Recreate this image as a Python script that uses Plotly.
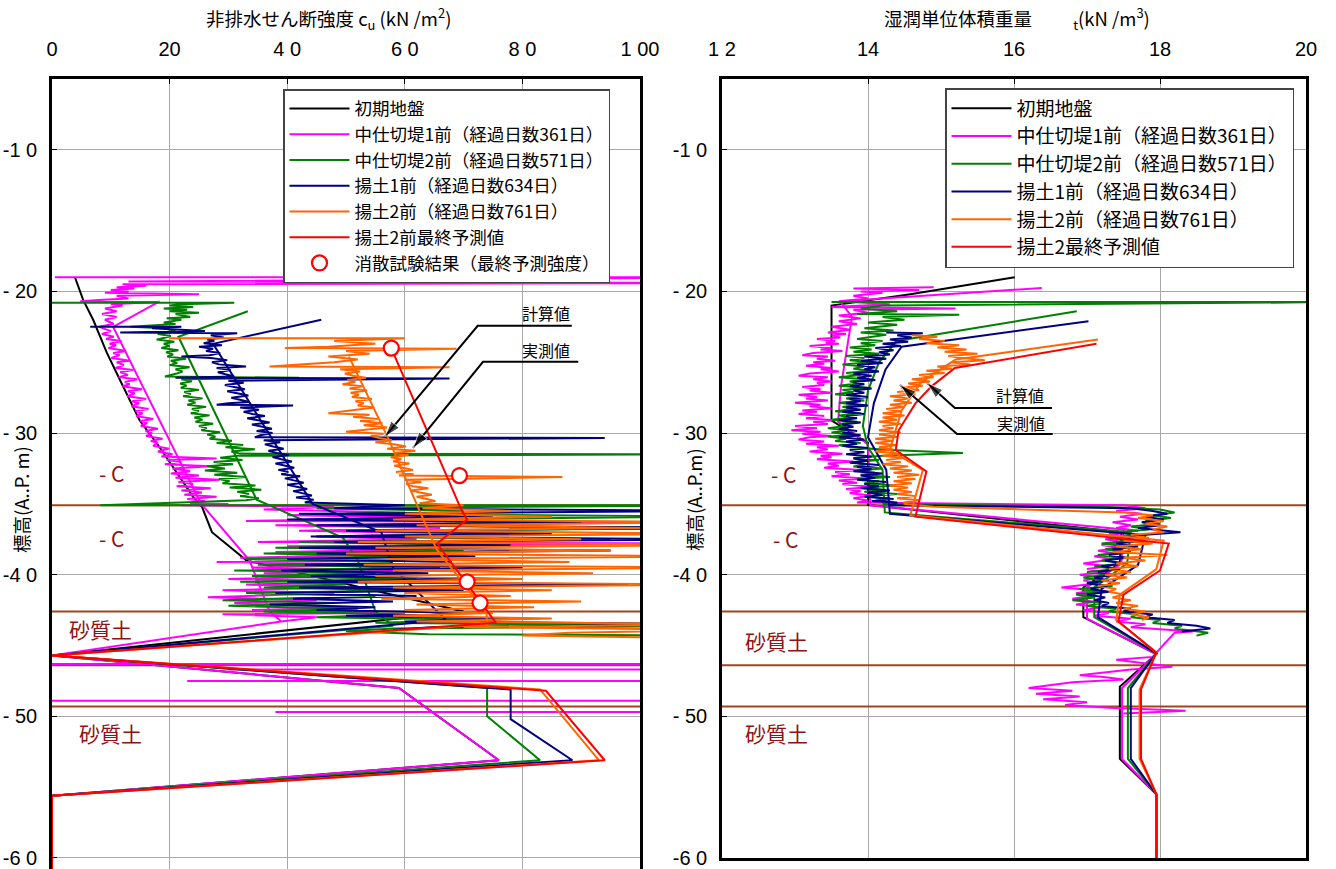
import plotly.graph_objects as go

# ------------------------------------------------------------------
# 非排水せん断強度 cu  —  (標高 A.P. m, cu kN/m2)
# ------------------------------------------------------------------
cu_initial = [(-19.0, 3.9), (-20.6, 5.3), (-22.0, 7.0), (-24.3, 9.3), (-26.2, 11.5),
              (-29.1, 14.9), (-31.0, 18.3), (-32.8, 21.2), (-34.5, 24.0), (-35.2, 25.5),
              (-37.0, 27.2), (-39.0, 33.1), (-42.0, 64.0), (-42.6, 70.0), (-45.7, 0.0),
              (-48.0, 59.0), (-53.1, 76.0), (-55.6, 0.0), (-60.8, 0.0)]

cu_pink_cpt = [(-19.0, 0.5), (-19.0, 115), (-19.3, 13), (-19.4, 115), (-19.5, 12), (-19.6, 16),
               (-19.7, 11), (-19.8, 14), (-19.9, 10), (-20.0, 13), (-20.1, 9), (-20.2, 25),
               (-20.3, 11), (-20.5, 13), (-20.6, 8), (-20.7, 4.8), (-20.75, 18), (-20.9, 10),
               (-21.0, 12), (-21.2, 9), (-21.4, 11), (-21.6, 8.5), (-21.8, 11), (-22.0, 9),
               (-22.3, 10.5), (-22.5, 8), (-22.8, 10), (-23.0, 8.5), (-23.2, 10.5), (-23.35, 9.2),
               (-23.5, 11.8), (-23.7, 9.8), (-23.8, 10.9), (-24.0, 9.6), (-24.2, 12.6),
               (-24.35, 10.4), (-24.5, 11.5), (-24.7, 10.1), (-24.9, 13.2), (-25.0, 11.0),
               (-25.2, 12.2), (-25.4, 10.8), (-25.55, 13.8), (-25.7, 11.6), (-25.9, 12.9),
               (-26.05, 11.3), (-26.2, 14.5), (-26.4, 12.4), (-26.55, 13.2), (-26.7, 12.0),
               (-26.9, 15.3), (-27.05, 12.9), (-27.2, 14.1), (-27.4, 12.8), (-27.6, 16.0),
               (-27.75, 13.6), (-27.9, 14.8), (-28.1, 13.5), (-28.3, 16.4), (-28.45, 14.2),
               (-28.6, 15.4), (-28.8, 14.3), (-29.0, 17.2), (-29.15, 15.0), (-29.3, 16.2),
               (-29.5, 15.1), (-29.7, 18.0), (-29.85, 15.9), (-30.0, 17.0), (-30.2, 16.0),
               (-30.4, 18.8), (-30.55, 16.8), (-30.7, 18.0), (-30.9, 17.2), (-31.1, 19.9),
               (-31.3, 18.0), (-31.5, 20.5), (-31.65, 18.6), (-31.8, 28.0), (-31.9, 19.5),
               (-32.05, 22.0), (-32.2, 19.2), (-32.35, 27.0), (-32.5, 20.5), (-32.7, 23.5),
               (-32.85, 20.2), (-33.0, 25.0), (-33.15, 21.0), (-33.3, 28.5), (-33.45, 21.5),
               (-33.6, 24.0), (-33.75, 21.2), (-33.9, 27.0), (-34.05, 22.0), (-34.2, 25.5),
               (-34.35, 22.5), (-34.5, 28.0), (-34.65, 23.0), (-34.8, 26.0), (-34.95, 23.5),
               (-35.0, 30), (-35.1, 22), (-35.2, 48), (-35.4, 36), (-35.6, 60),
               (-35.8, 40), (-36.0, 70), (-36.2, 33), (-36.3, 115), (-36.5, 38), (-36.7, 66),
               (-36.9, 42), (-37.1, 72), (-37.3, 45), (-37.5, 62), (-37.7, 35), (-37.8, 115),
               (-38.0, 40), (-38.2, 68), (-38.4, 38), (-38.6, 55), (-38.8, 32), (-39.0, 60),
               (-39.1, 28), (-39.3, 58), (-39.5, 34), (-39.7, 63), (-39.9, 36), (-40.1, 52),
               (-40.3, 30), (-40.5, 57), (-40.7, 33), (-40.9, 50), (-41.1, 29), (-41.3, 48),
               (-41.6, 26.5), (-41.8, 45), (-42.0, 31), (-42.3, 52), (-42.5, 34), (-42.7, 55),
               (-42.8, 29), (-43.0, 45), (-43.3, 39)]
# isolated spikes inside the sand layers: (depth, from, to)
cu_pink_sand = [(-46.3, 0, 115), (-46.7, 30, 115), (-47.5, 23, 115), (-48.9, 0, 115), (-49.7, 38, 115)]
cu_pink_calc = [(-20.7, 18.3), (-22.5, 10.4), (-34.7, 25.0), (-35.3, 26.0), (-39.0, 33.6),
                (-42.6, 37.0), (-43.3, 39.0), (-45.7, 0.0), (-48.0, 59.0), (-53.1, 76.0),
                (-55.6, 0.0), (-60.8, 0.0)]

cu_green_cpt = [(-20.8, 0), (-20.8, 31), (-20.9, 22), (-21.0, 20), (-21.1, 24), (-21.2, 19),
                (-21.3, 23), (-21.4, 20), (-21.5, 25), (-21.6, 21), (-21.8, 23.5), (-21.9, 19.5),
                (-22.0, 22), (-22.2, 19), (-22.3, 21), (-22.5, 13.3), (-22.6, 19), (-22.8, 21),
                (-23.0, 18), (-23.15, 20.2), (-23.3, 18.8), (-23.4, 17.8), (-23.55, 20.8),
                (-23.7, 19.0), (-23.85, 20.0), (-24.0, 18.6), (-24.15, 21.5), (-24.3, 19.4),
                (-24.45, 20.6), (-24.6, 19.6), (-24.75, 22.8), (-24.9, 20.2), (-25.05, 21.3),
                (-25.2, 20.0), (-25.35, 23.4), (-25.5, 21.0), (-25.65, 22.2), (-25.8, 21.2),
                (-26.0, 19.2), (-26.1, 42), (-26.2, 22), (-26.35, 23.8), (-26.5, 21.8),
                (-26.65, 22.9), (-26.8, 21.9), (-26.95, 25.0), (-27.1, 22.5), (-27.25, 23.6),
                (-27.4, 22.3), (-27.55, 25.6), (-27.7, 23.2), (-27.85, 24.4), (-28.0, 23.0),
                (-28.15, 26.2), (-28.3, 23.8), (-28.45, 25.0), (-28.6, 23.6), (-28.75, 26.8),
                (-28.9, 24.2), (-29.05, 25.6), (-29.2, 24.4), (-29.35, 27.4), (-29.5, 25.0),
                (-29.65, 26.3), (-29.8, 25.4), (-29.95, 28.6), (-30.1, 26.4), (-30.25, 27.8),
                (-30.4, 26.8), (-30.55, 30.6), (-30.7, 28.0), (-30.85, 32.5), (-31.0, 29.5),
                (-31.15, 34.5), (-31.3, 30.5), (-31.45, 32.0), (-31.5, 115), (-31.6, 31.5),
                (-31.75, 28.6), (-31.9, 32.4), (-32.05, 27.5), (-32.2, 30.8), (-32.35, 26.4),
                (-32.5, 29.4), (-32.65, 26.0), (-32.8, 31.5), (-32.95, 27.6), (-33.1, 33.0),
                (-33.25, 28.4), (-33.4, 30.2), (-33.55, 29.0), (-33.7, 34.6), (-33.85, 30.2),
                (-34.0, 35.6), (-34.15, 31.5), (-34.3, 33.5), (-34.45, 32.0), (-34.6, 35.2),
                (-34.75, 33.0), (-35.1, 8.2), (-35.1, 115), (-35.3, 45), (-35.5, 70), (-35.7, 50),
                (-35.9, 115), (-36.1, 55), (-36.3, 85), (-36.5, 48), (-36.7, 115), (-36.9, 52),
                (-37.1, 80), (-37.3, 45), (-37.5, 95), (-37.7, 42), (-37.9, 75), (-38.1, 38),
                (-38.3, 70), (-38.5, 36), (-38.7, 62), (-38.9, 33), (-39.1, 58), (-39.3, 35),
                (-39.5, 66), (-39.7, 31), (-39.9, 55), (-40.1, 34), (-40.3, 62), (-40.5, 32),
                (-40.7, 50), (-40.9, 36), (-41.1, 60), (-41.3, 33), (-41.5, 55), (-41.8, 29),
                (-42.0, 48), (-42.2, 30), (-42.4, 52), (-42.6, 36), (-42.8, 60), (-43.0, 45),
                (-43.2, 75), (-43.4, 55), (-43.6, 115), (-43.8, 58), (-44.0, 50), (-44.2, 64),
                (-44.3, 115)]
cu_green_calc = [(-21.4, 33.3), (-23.2, 21.5), (-34.7, 34.8), (-37.4, 49.5), (-39.0, 52.0),
                 (-42.6, 55.0), (-43.6, 58.0), (-45.7, 0.0), (-48.0, 74.0), (-50.0, 74.0),
                 (-53.1, 83.0), (-55.6, 0.0), (-60.8, 0.0)]

cu_navy_cpt = [(-22.5, 6.5), (-22.5, 22), (-22.6, 17), (-22.8, 26), (-22.9, 11.6), (-22.95, 31.5),
               (-23.1, 27), (-23.25, 29.2), (-23.4, 26.4), (-23.5, 27.6), (-23.65, 25.8),
               (-23.8, 28.9), (-23.9, 25), (-24.05, 27.4), (-24.2, 26.2), (-24.35, 28.6),
               (-24.5, 26.8), (-24.6, 22), (-24.7, 27), (-24.85, 29.8), (-25.0, 27.2),
               (-25.15, 28.4), (-25.3, 33), (-25.4, 28), (-25.55, 30.4), (-25.7, 28.2),
               (-25.85, 29.5), (-26.0, 31), (-26.1, 21), (-26.15, 67.6), (-26.3, 30),
               (-26.45, 32.6), (-26.6, 29.4), (-26.75, 31.2), (-26.9, 32.8), (-27.05, 29.8),
               (-27.2, 31.5), (-27.35, 33.4), (-27.5, 30.5), (-27.65, 32.2), (-27.8, 33.6),
               (-27.9, 30), (-28.0, 28), (-28.05, 41), (-28.2, 32), (-28.35, 35.2), (-28.5, 32.6),
               (-28.65, 34.1), (-28.8, 36.2), (-28.95, 33.2), (-29.1, 35.0), (-29.25, 37.0),
               (-29.4, 34), (-29.55, 35.6), (-29.7, 37.4), (-29.85, 34.8), (-30.0, 37.5),
               (-30.15, 35.4), (-30.3, 34.5), (-30.35, 94), (-30.5, 36), (-30.65, 38.8),
               (-30.8, 36.2), (-30.95, 37.6), (-31.1, 39.4), (-31.25, 36.8), (-31.4, 38.2),
               (-31.55, 40.3), (-31.7, 37.5), (-31.85, 39.0), (-32.0, 40.8), (-32.15, 38.0),
               (-32.3, 39.4), (-32.45, 41.2), (-32.6, 38.5), (-32.75, 40.2), (-32.9, 39),
               (-33.05, 42.2), (-33.2, 39.6), (-33.35, 41.0), (-33.5, 42.8), (-33.65, 40.0),
               (-33.8, 41.6), (-33.95, 43.4), (-34.1, 41), (-34.25, 42.6), (-34.4, 44.2),
               (-34.55, 41.5), (-34.7, 44.5), (-34.9, 43),
               (-35.1, 60), (-35.3, 48), (-35.5, 115), (-35.7, 42), (-35.9, 75), (-36.1, 40),
               (-36.3, 90), (-36.5, 45), (-36.7, 115), (-36.9, 50), (-37.1, 85), (-37.3, 44),
               (-37.5, 115), (-37.7, 48), (-37.9, 78), (-38.1, 42), (-38.3, 95), (-38.5, 45),
               (-38.7, 72), (-38.9, 40), (-39.1, 68), (-39.3, 43), (-39.5, 80), (-39.7, 39),
               (-39.9, 64), (-40.1, 44), (-40.3, 75), (-40.5, 40), (-40.7, 98), (-40.9, 42),
               (-41.1, 70), (-41.3, 38), (-41.5, 62), (-41.7, 41), (-41.9, 58), (-42.1, 37),
               (-42.3, 55), (-42.5, 45), (-42.7, 72), (-42.9, 50), (-43.1, 80), (-43.3, 60),
               (-43.5, 115), (-43.7, 65), (-43.9, 58)]
cu_navy_calc = [(-22.0, 45.8), (-23.5, 29.5), (-23.7, 27.4), (-35.0, 44.3), (-37.0, 56.0),
                (-39.5, 58.0), (-42.0, 64.0), (-43.2, 67.0), (-45.7, 0.0), (-48.1, 78.0),
                (-50.2, 78.0), (-53.1, 88.5), (-55.6, 0.0), (-60.8, 0.0)]

cu_orange_cpt = [(-23.3, 20), (-23.3, 60), (-23.5, 48), (-23.7, 55), (-23.9, 47), (-24.0, 39.6),
                 (-24.05, 68.8), (-24.2, 50), (-24.4, 54), (-24.6, 47), (-24.8, 52), (-25.0, 48),
                 (-25.3, 37), (-25.35, 67.6), (-25.5, 49), (-25.65, 52.4), (-25.8, 49.8),
                 (-25.95, 51.2), (-26.1, 53.4), (-26.25, 50.2), (-26.4, 51.6), (-26.55, 49.4),
                 (-26.7, 52.8), (-26.85, 50.6), (-27.0, 53.6), (-27.15, 50.8), (-27.3, 52.2),
                 (-27.45, 51.0), (-27.6, 54.4), (-27.75, 51.6), (-27.9, 53.0), (-28.05, 52.0),
                 (-28.2, 54.8), (-28.35, 52.2), (-28.6, 47), (-28.7, 54), (-28.85, 51.2),
                 (-29.0, 55.4), (-29.15, 52.4), (-29.3, 56.2), (-29.45, 53.0), (-29.6, 57.0),
                 (-29.75, 53.4), (-29.9, 50), (-30.05, 56.4), (-30.2, 54.2), (-30.35, 55.6),
                 (-30.5, 57.8), (-30.65, 55.0), (-30.8, 58.4), (-30.95, 60.2), (-31.1, 57),
                 (-31.25, 61.8), (-31.4, 58.2), (-31.55, 60.6), (-31.7, 57.6), (-31.85, 59.4),
                 (-32.0, 58.0), (-32.15, 60.8), (-32.3, 58.2), (-32.45, 59.6), (-32.6, 61.4),
                 (-32.75, 58.5), (-32.9, 61.5), (-33.0, 59), (-33.1, 86.8), (-33.3, 60),
                 (-33.45, 62.8), (-33.6, 60.2), (-33.75, 61.4), (-33.9, 64), (-34.05, 61.0),
                 (-34.2, 62.6), (-34.35, 64.6), (-34.5, 62), (-34.65, 63.4), (-34.8, 65.2),
                 (-34.95, 62.5), (-35.1, 70), (-35.3, 63), (-35.5, 78),
                 (-35.7, 60), (-35.9, 85), (-36.1, 58), (-36.3, 115), (-36.5, 62), (-36.7, 100),
                 (-36.9, 55), (-37.1, 115), (-37.3, 60), (-37.5, 90), (-37.7, 52), (-37.9, 115),
                 (-38.1, 55), (-38.3, 95), (-38.5, 50), (-38.7, 115), (-38.9, 57), (-39.1, 88),
                 (-39.3, 53), (-39.5, 115), (-39.7, 58), (-39.9, 92), (-40.1, 55), (-40.3, 80),
                 (-40.5, 52), (-40.7, 115), (-40.9, 58), (-41.1, 85), (-41.3, 60), (-41.5, 78),
                 (-41.7, 56), (-41.9, 90), (-42.1, 62), (-42.3, 82), (-42.5, 60), (-42.7, 75),
                 (-42.9, 58), (-43.1, 85), (-43.3, 62), (-43.5, 115), (-43.7, 70), (-43.9, 115),
                 (-44.1, 88), (-44.3, 80), (-44.5, 115)]
cu_orange_calc = [(-24.6, 50.5), (-30.3, 57.1), (-35.2, 62.2), (-38.2, 65.4), (-42.7, 73.9),
                  (-43.5, 74.0), (-45.7, 0.0), (-48.1, 83.0), (-53.1, 93.0), (-55.6, 0.0),
                  (-60.8, 0.0)]

cu_red_final = [(-24.0, 57.7), (-35.4, 69.6), (-36.1, 70.6), (-37.8, 65.5), (-43.4, 75.5),
                (-45.7, 0.0), (-48.2, 84.0), (-53.1, 94.0), (-55.6, 0.0), (-60.8, 0.0)]

# 消散試験結果 (最終予測強度)
cu_dissipation = [(-24.0, 57.7), (-33.0, 69.3), (-40.5, 70.6), (-42.0, 72.8)]

# ------------------------------------------------------------------
# 湿潤単位体積重量 γt  —  (標高 A.P. m, γt kN/m3)
# ------------------------------------------------------------------
gt_initial = [(-19.0, 16.01), (-20.2, 14.58), (-21.0, 13.5), (-29.1, 13.5), (-29.5, 13.62),
              (-30.7, 14.0), (-35.07, 14.0), (-37.0, 17.47), (-39.2, 17.45), (-40.9, 16.95),
              (-43.0, 16.95), (-45.6, 17.95), (-47.9, 17.45), (-53.0, 17.45), (-55.5, 17.95),
              (-60.0, 17.95)]

gt_pink_cpt = [(-19.7, 14.9), (-19.8, 13.8), (-19.9, 14.7), (-20.0, 13.9), (-20.1, 14.2),
               (-20.3, 13.8), (-20.5, 14.0), (-20.7, 13.6), (-20.9, 14.3), (-21.1, 13.5),
               (-21.2, 15.2), (-21.3, 13.8), (-21.5, 14.0), (-21.7, 13.6), (-21.9, 13.9),
               (-22.1, 13.6), (-22.3, 13.85), (-22.5, 13.5), (-22.7, 13.75), (-22.9, 13.45),
               (-23.0, 13.7), (-23.1, 13.5), (-23.25, 13.62), (-23.35, 13.3), (-23.5, 13.55),
               (-23.6, 13.42), (-23.7, 13.6), (-23.85, 13.2), (-24.0, 13.5), (-24.1, 13.35),
               (-24.2, 13.65), (-24.35, 13.25), (-24.5, 13.1), (-24.6, 13.45), (-24.75, 13.3),
               (-24.9, 13.55), (-25.0, 13.25), (-25.1, 13.4), (-25.25, 13.15), (-25.4, 13.5),
               (-25.5, 13.35), (-25.65, 13.6), (-25.8, 13.2), (-25.95, 13.05), (-26.05, 13.45),
               (-26.2, 13.25), (-26.35, 13.5), (-26.45, 13.3), (-26.6, 13.4), (-26.75, 13.1),
               (-26.9, 13.35), (-27.0, 13.2), (-27.15, 13.5), (-27.3, 13.05), (-27.45, 13.3),
               (-27.55, 13.15), (-27.7, 13.45), (-27.85, 13.0), (-28.0, 13.35), (-28.1, 13.2),
               (-28.25, 13.5), (-28.4, 13.1), (-28.5, 13.3), (-28.65, 13.05), (-28.8, 13.4),
               (-28.95, 13.15), (-29.1, 13.55), (-29.2, 13.25), (-29.35, 13.45), (-29.5, 13.0),
               (-29.65, 13.3), (-29.8, 12.95), (-29.9, 13.35), (-30.05, 13.1), (-30.2, 13.5),
               (-30.3, 13.2), (-30.45, 13.05), (-30.6, 13.4), (-30.75, 13.15), (-30.9, 13.6),
               (-31.0, 13.3), (-31.15, 13.45), (-31.3, 13.2), (-31.45, 13.65), (-31.6, 13.35),
               (-31.7, 13.5), (-31.85, 13.3), (-32.0, 13.8), (-32.15, 13.45), (-32.3, 13.6),
               (-32.45, 13.4), (-32.6, 13.9), (-32.75, 13.55), (-32.9, 13.75), (-33.05, 13.5),
               (-33.2, 13.95), (-33.35, 13.6), (-33.5, 13.85), (-33.6, 13.65), (-33.8, 14.05),
               (-33.95, 13.7), (-34.1, 13.9), (-34.25, 13.75), (-34.4, 14.05), (-34.6, 13.8),
               (-34.75, 14.0), (-34.9, 13.85),
               (-35.1, 17.5), (-35.3, 17.8), (-35.5, 17.4), (-35.7, 17.75), (-35.9, 17.45),
               (-36.1, 17.7), (-36.3, 17.35), (-36.5, 17.6), (-36.7, 17.4), (-36.9, 17.7),
               (-37.1, 17.3), (-37.3, 17.55), (-37.5, 17.25), (-37.7, 17.5), (-37.9, 17.2),
               (-38.1, 17.45), (-38.3, 17.15), (-38.5, 17.4), (-38.7, 17.1), (-38.9, 17.35),
               (-39.2, 16.95), (-39.4, 17.3), (-39.6, 17.0), (-39.8, 17.25), (-40.0, 16.9),
               (-40.2, 17.2), (-40.4, 16.95), (-40.6, 17.15), (-40.9, 16.65), (-41.1, 17.1),
               (-41.3, 16.85), (-41.5, 17.05), (-41.7, 16.8), (-41.9, 17.1), (-42.1, 16.85),
               (-42.3, 17.2), (-42.5, 16.95), (-42.7, 17.3), (-42.9, 17.1), (-43.1, 17.6),
               (-43.3, 17.4), (-43.5, 17.8), (-43.7, 17.6), (-44.0, 18.45), (-44.1, 18.2),
               (-45.5, 17.95), (-45.8, 17.9), (-46.0, 17.4), (-46.2, 17.7), (-46.5, 18.17),
               (-46.7, 17.6), (-46.9, 17.2), (-47.1, 16.9), (-47.2, 17.2), (-47.4, 17.5),
               (-47.6, 16.8), (-47.8, 16.5), (-48.0, 16.2), (-48.2, 16.8), (-48.4, 16.3),
               (-48.6, 16.9), (-48.8, 16.4), (-49.0, 17.0), (-49.2, 16.7), (-49.4, 17.3),
               (-49.6, 18.35), (-49.8, 17.5)]
gt_pink_calc = [(-19.75, 16.38), (-20.7, 13.62), (-21.8, 13.78), (-24.4, 13.7), (-26.7, 13.63),
                (-29.2, 13.59), (-30.8, 14.0), (-35.1, 14.03), (-36.8, 17.5), (-39.2, 17.47),
                (-40.9, 17.0), (-43.1, 17.0), (-45.6, 17.95), (-48.0, 17.48), (-53.0, 17.48),
                (-55.5, 17.95), (-60.0, 17.95)]

gt_green_cpt = [(-20.75, 13.5), (-20.75, 20.5), (-21.0, 14.2), (-21.2, 13.9), (-21.4, 14.4),
                (-21.6, 13.85), (-21.65, 15.25), (-21.8, 14.2), (-22.0, 14.5), (-22.2, 14.0),
                (-22.35, 14.4), (-22.5, 14.1), (-22.6, 13.95), (-22.75, 14.35), (-22.9, 13.9),
                (-23.05, 14.25), (-23.2, 14.05), (-23.35, 13.85), (-23.5, 14.2), (-23.65, 13.9),
                (-23.8, 14.1), (-23.95, 13.75), (-24.1, 14.05), (-24.25, 13.8), (-24.4, 14.15),
                (-24.55, 13.7), (-24.7, 13.95), (-24.85, 13.75), (-25.0, 14.05), (-25.15, 13.65),
                (-25.3, 13.95), (-25.45, 13.8), (-25.6, 14.05), (-25.75, 13.7), (-25.9, 13.9),
                (-26.05, 13.6), (-26.2, 13.95), (-26.35, 13.75), (-26.5, 13.85), (-26.65, 13.6),
                (-26.8, 14.0), (-26.95, 13.65), (-27.1, 13.8), (-27.25, 13.55), (-27.4, 13.9),
                (-27.55, 13.7), (-27.7, 13.95), (-27.85, 13.6), (-28.0, 13.85), (-28.15, 13.65),
                (-28.3, 13.8), (-28.45, 13.55), (-28.6, 13.9), (-28.75, 13.6), (-28.9, 13.75),
                (-29.05, 13.5), (-29.2, 13.85), (-29.35, 13.6), (-29.5, 13.7), (-29.65, 13.45),
                (-29.8, 13.75), (-29.95, 13.5), (-30.1, 13.8), (-30.25, 13.45), (-30.4, 13.7),
                (-30.55, 13.55), (-30.7, 13.9), (-30.85, 13.6), (-31.0, 13.75), (-31.2, 14.3),
                (-31.4, 15.3), (-31.6, 14.2), (-31.75, 13.8), (-31.9, 14.15), (-32.05, 13.75),
                (-32.2, 14.0), (-32.35, 13.8), (-32.5, 14.2), (-32.65, 13.85), (-32.8, 14.1),
                (-32.95, 13.9), (-33.1, 14.3), (-33.25, 13.85), (-33.4, 14.15), (-33.55, 13.95),
                (-33.7, 14.35), (-33.85, 14.0), (-34.0, 14.2), (-34.15, 13.95), (-34.3, 14.4),
                (-34.45, 14.05), (-34.6, 14.3), (-34.75, 14.1), (-34.9, 14.35), (-35.0, 14.2),
                (-35.2, 17.2),
                (-35.4, 18.0), (-35.6, 18.2), (-35.8, 17.9), (-36.0, 18.15), (-36.2, 17.8),
                (-36.4, 18.0), (-36.6, 17.6), (-36.8, 17.85), (-37.0, 17.4), (-37.2, 17.7),
                (-37.4, 17.3), (-37.6, 17.6), (-37.8, 17.2), (-38.0, 17.55), (-38.2, 17.25),
                (-38.4, 17.5), (-38.6, 17.15), (-38.8, 17.45), (-39.0, 17.2), (-39.2, 17.55),
                (-39.4, 17.1), (-39.6, 17.4), (-39.8, 17.0), (-40.0, 17.3), (-40.2, 16.95),
                (-40.4, 17.2), (-40.6, 17.0), (-40.8, 17.35), (-41.0, 16.9), (-41.2, 17.2),
                (-41.4, 16.85), (-41.6, 17.1), (-41.8, 16.8), (-42.0, 17.2), (-42.2, 17.0),
                (-42.4, 17.4), (-42.6, 17.3), (-42.8, 17.7), (-43.0, 17.6), (-43.2, 18.0),
                (-43.4, 17.9), (-43.6, 18.3), (-43.8, 18.2), (-44.1, 18.66), (-44.3, 18.5)]
gt_green_calc = [(-21.4, 16.86), (-23.5, 14.39), (-25.0, 14.15), (-27.0, 14.0), (-29.5, 13.93),
                 (-31.0, 14.0), (-32.6, 14.2), (-35.6, 14.23), (-37.0, 17.6), (-39.2, 17.55),
                 (-40.9, 17.1), (-43.0, 17.1), (-45.55, 17.95), (-48.0, 17.56), (-53.0, 17.56),
                 (-55.5, 17.95), (-60.0, 17.95)]

gt_navy_cpt = [(-22.9, 14.25), (-22.95, 14.75), (-23.1, 14.4), (-23.25, 14.6), (-23.4, 14.3),
               (-23.55, 14.55), (-23.7, 14.2), (-23.85, 14.45), (-24.0, 14.1), (-24.15, 14.35),
               (-24.3, 14.15), (-24.45, 14.3), (-24.6, 13.95), (-24.75, 14.25), (-24.9, 13.9),
               (-25.05, 14.2), (-25.2, 13.85), (-25.35, 14.1), (-25.5, 13.95), (-25.65, 14.15),
               (-25.8, 13.8), (-25.95, 14.05), (-26.1, 13.85), (-26.25, 14.1), (-26.4, 13.8),
               (-26.55, 13.95), (-26.7, 13.75), (-26.85, 14.05), (-27.0, 13.8), (-27.15, 13.95),
               (-27.3, 13.7), (-27.45, 14.0), (-27.6, 13.75), (-27.75, 13.9), (-27.9, 13.7),
               (-28.05, 14.0), (-28.2, 13.7), (-28.35, 13.9), (-28.5, 13.65), (-28.65, 13.95),
               (-28.8, 13.7), (-28.95, 13.85), (-29.1, 13.6), (-29.25, 13.9), (-29.4, 13.65),
               (-29.55, 13.8), (-29.7, 13.6), (-29.85, 13.85), (-30.0, 13.65), (-30.15, 13.9),
               (-30.3, 13.6), (-30.45, 13.95), (-30.6, 13.7), (-30.75, 13.85), (-30.9, 13.65),
               (-31.05, 14.0), (-31.2, 13.75), (-31.35, 13.95), (-31.5, 13.7), (-31.65, 14.05),
               (-31.8, 13.8), (-31.95, 14.0), (-32.1, 13.75), (-32.25, 14.15), (-32.4, 13.85),
               (-32.55, 14.05), (-32.7, 13.8), (-32.85, 14.2), (-33.0, 13.9), (-33.15, 14.1),
               (-33.3, 13.85), (-33.45, 14.25), (-33.6, 13.95), (-33.75, 14.15), (-33.9, 13.9),
               (-34.05, 14.3), (-34.2, 14.0), (-34.35, 14.2), (-34.5, 13.95), (-34.65, 14.35),
               (-34.8, 14.05), (-34.9, 14.4), (-35.1, 14.3), (-35.3, 17.6), (-35.5, 17.9),
               (-35.7, 18.1), (-35.9, 17.8), (-36.1, 18.05), (-36.3, 17.75), (-36.5, 18.0),
               (-36.7, 17.7), (-37.0, 18.28), (-37.2, 17.75), (-37.4, 17.5), (-37.6, 17.8),
               (-37.8, 17.4), (-38.0, 17.7), (-38.2, 17.35), (-38.4, 17.6), (-38.6, 17.3),
               (-38.8, 17.55), (-39.0, 17.25), (-39.2, 17.5), (-39.4, 17.2), (-39.6, 17.45),
               (-39.8, 17.15), (-40.0, 17.4), (-40.2, 17.1), (-40.4, 17.3), (-40.6, 17.0),
               (-40.8, 17.25), (-41.0, 17.05), (-41.2, 17.3), (-41.4, 17.0), (-41.6, 17.25),
               (-41.8, 17.1), (-42.0, 17.3), (-42.2, 17.2), (-42.4, 17.6), (-42.6, 17.5),
               (-42.8, 17.9), (-43.0, 17.8), (-43.2, 18.2), (-43.4, 18.1), (-43.6, 18.5),
               (-43.8, 18.69), (-44.0, 18.3)]
gt_navy_calc = [(-22.1, 17.02), (-23.9, 14.46), (-25.5, 14.24), (-27.9, 14.08), (-30.3, 14.0),
                (-32.6, 14.25), (-35.7, 14.3), (-37.2, 17.8), (-39.3, 17.7), (-41.0, 17.2),
                (-43.0, 17.15), (-45.55, 17.95), (-48.0, 17.6), (-53.0, 17.6), (-55.5, 17.95),
                (-60.0, 17.95)]

gt_orange_cpt = [(-23.1, 14.6), (-23.2, 14.95), (-23.35, 14.7), (-23.5, 15.05), (-23.65, 14.8),
                 (-23.8, 15.25), (-23.95, 14.95), (-24.1, 15.35), (-24.25, 15.05), (-24.4, 15.5),
                 (-24.55, 15.1), (-24.7, 15.3), (-24.85, 15.6), (-25.0, 15.15), (-25.15, 15.4),
                 (-25.3, 14.95), (-25.45, 15.15), (-25.6, 14.8), (-25.75, 15.05), (-25.9, 14.7),
                 (-26.05, 14.9), (-26.2, 14.6), (-26.35, 14.85), (-26.5, 14.55), (-26.65, 14.75),
                 (-26.8, 14.45), (-26.95, 14.7), (-27.1, 14.4), (-27.25, 14.65), (-27.4, 14.3),
                 (-27.55, 14.55), (-27.7, 14.35), (-27.85, 14.6), (-28.0, 14.3), (-28.15, 14.5),
                 (-28.3, 14.25), (-28.45, 14.45), (-28.6, 14.2), (-28.75, 14.5), (-28.9, 14.2),
                 (-29.05, 14.4), (-29.2, 14.15), (-29.35, 14.45), (-29.5, 14.2), (-29.65, 14.35),
                 (-29.8, 14.15), (-29.95, 14.45), (-30.1, 14.15), (-30.25, 14.4), (-30.4, 14.1),
                 (-30.55, 14.35), (-30.7, 14.1), (-30.85, 14.4), (-31.0, 14.15), (-31.15, 14.35),
                 (-31.3, 14.1), (-31.45, 14.45), (-31.6, 14.2), (-31.75, 14.5), (-31.9, 14.25),
                 (-32.05, 14.45), (-32.2, 14.2), (-32.35, 14.55), (-32.5, 14.3), (-32.65, 14.6),
                 (-32.8, 14.35), (-32.95, 14.7), (-33.1, 14.4), (-33.25, 14.65), (-33.4, 14.35),
                 (-33.55, 14.6), (-33.7, 14.3), (-33.85, 14.55), (-34.0, 14.35), (-34.15, 14.6),
                 (-34.3, 14.4), (-34.45, 14.65), (-34.6, 14.4), (-34.75, 14.7), (-34.9, 14.5),
                 (-35.0, 14.5), (-35.2, 14.9), (-35.6, 17.5), (-35.8, 17.9), (-36.0, 17.7),
                 (-36.2, 18.05), (-36.4, 17.8), (-36.6, 18.1), (-36.8, 17.9), (-37.0, 18.05),
                 (-37.2, 17.6), (-37.4, 17.85), (-37.6, 17.5), (-37.8, 17.9), (-38.0, 17.4),
                 (-38.2, 17.75), (-38.4, 17.35), (-38.6, 18.1), (-38.8, 17.5), (-39.0, 17.8),
                 (-39.2, 17.4), (-39.4, 17.7), (-39.6, 17.3), (-39.8, 17.6), (-40.0, 17.25),
                 (-40.2, 17.55), (-40.4, 17.2), (-40.6, 17.45), (-40.8, 17.15), (-41.0, 17.4),
                 (-41.2, 17.3), (-41.4, 17.5), (-41.6, 17.35), (-41.8, 17.6), (-42.0, 17.4),
                 (-42.2, 17.7), (-42.4, 17.5), (-42.6, 17.8), (-42.8, 17.6), (-43.0, 17.85),
                 (-43.2, 17.75)]
gt_orange_calc = [(-23.4, 17.15), (-24.8, 15.2), (-26.4, 14.73), (-28.4, 14.46), (-30.3, 14.35),
                  (-31.2, 14.3), (-32.6, 14.75), (-35.8, 14.58), (-37.6, 18.05), (-39.6, 17.95),
                  (-41.4, 17.45), (-43.2, 17.4), (-45.5, 17.95), (-48.1, 17.72), (-53.0, 17.72),
                  (-55.5, 17.95), (-60.0, 17.95)]

gt_red_final = [(-23.7, 17.13), (-25.4, 15.19), (-26.7, 14.87), (-27.9, 14.65), (-29.8, 14.42),
                (-31.2, 14.38), (-32.7, 14.8), (-35.9, 14.65), (-37.8, 18.12), (-39.7, 18.0),
                (-41.4, 17.5), (-43.3, 17.43), (-45.5, 17.95), (-48.1, 17.74), (-53.0, 17.74),
                (-55.5, 17.95), (-60.0, 17.95)]

# soil layer boundaries (標高 m) and layer names
layer_bounds = [-35.1, -42.6, -46.4, -49.3]
layer_names = ["- C", "- C", "砂質土", "砂質土"]

legend_names_cu = ["初期地盤", "中仕切堤1前（経過日数361日）", "中仕切堤2前（経過日数571日）",
                   "揚土1前（経過日数634日）", "揚土2前（経過日数761日）", "揚土2前最終予測値",
                   "消散試験結果（最終予測強度）"]
legend_names_gt = ["初期地盤", "中仕切堤1前（経過日数361日）", "中仕切堤2前（経過日数571日）",
                   "揚土1前（経過日数634日）", "揚土2前（経過日数761日）", "揚土2最終予測値"]

# ------------------------------------------------------------------
C_BLACK, C_PINK, C_GREEN, C_NAVY, C_ORANGE, C_RED = (
    "#000000", "#FF00FF", "#008000", "#000080", "#FF6600", "#FF0000")
C_LAYER = "#A0461E"
C_LABEL = "#8C1414"
JP = "Noto Sans CJK JP"
NUM = "Liberation Sans Narrow, Arial Narrow, Liberation Sans, Arial, sans-serif"
LW = 2


def unzip(pairs):
    return [p[1] for p in pairs], [p[0] for p in pairs]


def spikes(rows):
    xs, ys = [], []
    for d, a, b in rows:
        xs += [a, b, None]
        ys += [d, d, None]
    return xs, ys


fig = go.Figure()

L = ("x", "y")
R = ("x2", "y2")
X_SPAN = {"x": (0, 100), "x2": (12, 20)}

# soil layer boundaries, drawn first so the profiles sit on top
for ax in (L, R):
    bx, by = [], []
    for b in layer_bounds:
        bx += [X_SPAN[ax[0]][0], X_SPAN[ax[0]][1], None]
        by += [b, b, None]
    fig.add_trace(go.Scatter(x=bx, y=by, mode="lines", line=dict(color=C_LAYER, width=2),
                             xaxis=ax[0], yaxis=ax[1], showlegend=False, hoverinfo="skip"))


def add(pairs, color, ax, name=None, legend="legend", width=LW):
    x, y = unzip(pairs)
    fig.add_trace(go.Scatter(
        x=x, y=y, mode="lines", line=dict(color=color, width=width),
        xaxis=ax[0], yaxis=ax[1], name=name or "", showlegend=name is not None,
        legend=legend, hoverinfo="skip"))


# --- left panel: cu ---
add(cu_initial, C_BLACK, L, legend_names_cu[0])
add(cu_pink_cpt, C_PINK, L, legend_names_cu[1])
sx, sy = spikes(cu_pink_sand)
fig.add_trace(go.Scatter(x=sx, y=sy, mode="lines", line=dict(color=C_PINK, width=LW),
                         xaxis="x", yaxis="y", showlegend=False, hoverinfo="skip"))
add(cu_pink_calc, C_PINK, L)
add(cu_green_cpt, C_GREEN, L, legend_names_cu[2])
add(cu_green_calc, C_GREEN, L)
add(cu_navy_cpt, C_NAVY, L, legend_names_cu[3])
add(cu_navy_calc, C_NAVY, L)
add(cu_orange_cpt, C_ORANGE, L, legend_names_cu[4])
add(cu_orange_calc, C_ORANGE, L)
add(cu_red_final, C_RED, L, legend_names_cu[5])
dx, dy = unzip(cu_dissipation)
fig.add_trace(go.Scatter(
    x=dx, y=dy, mode="markers", name=legend_names_cu[6], legend="legend",
    marker=dict(symbol="circle", size=15, color="white", line=dict(color=C_RED, width=2.2)),
    xaxis="x", yaxis="y", hoverinfo="skip"))

# --- right panel: γt ---
add(gt_initial, C_BLACK, R, legend_names_gt[0], "legend2")
add(gt_pink_cpt, C_PINK, R, legend_names_gt[1], "legend2")
add(gt_pink_calc, C_PINK, R)
add(gt_green_cpt, C_GREEN, R, legend_names_gt[2], "legend2")
add(gt_green_calc, C_GREEN, R)
add(gt_navy_cpt, C_NAVY, R, legend_names_gt[3], "legend2")
add(gt_navy_calc, C_NAVY, R)
add(gt_orange_cpt, C_ORANGE, R, legend_names_gt[4], "legend2")
add(gt_orange_calc, C_ORANGE, R)
add(gt_red_final, C_RED, R, legend_names_gt[5], "legend2")

# 計算値 / 実測値 call-outs: leader line end -> elbow -> arrow head
callouts = [
    # (axes, text, text x, text y, end x, elbow x, elbow y, head x, head y)
    (L, "計算値", 84.0, -21.5, 88.4, 72.4, -22.43, 56.6, -30.27),
    (L, "実測値", 84.0, -24.1, 89.5, 73.3, -24.97, 61.4, -31.05),
    (R, "計算値", 16.08, -27.3, 16.52, 15.19, -28.22, 14.81, -26.46),
    (R, "実測値", 16.1, -29.28, 16.53, 15.22, -30.06, 14.44, -26.6),
]
annotations = []
for ax, txt, tx, ty, endx, ex, ey, hx, hy in callouts:
    fig.add_trace(go.Scatter(
        x=[endx, ex, hx], y=[ey, ey, hy], mode="lines+markers",
        line=dict(color="black", width=2),
        marker=dict(symbol="arrow", size=[0, 0, 17], angleref="previous", color="black"),
        xaxis=ax[0], yaxis=ax[1], showlegend=False, hoverinfo="skip"))
    annotations.append(dict(text=txt, xref=ax[0], yref=ax[1], x=tx, y=ty, showarrow=False,
                            xanchor="center", yanchor="middle",
                            font=dict(family=JP, size=16, color="black")))

# layer names
label_pos = {
    "x": [(0.102, -32.8), (0.102, -37.4), (0.083, -43.8), (0.100, -51.2)],
    "x2": [(0.106, -32.9), (0.109, -37.5), (0.094, -44.7), (0.094, -51.2)],
}
for xa, ya in (L, R):
    for name, (fx, d) in zip(layer_names, label_pos[xa]):
        annotations.append(dict(text=name, xref=xa + " domain", yref=ya, x=fx, y=d,
                                xanchor="center", yanchor="middle", showarrow=False,
                                font=dict(family=JP, size=21, color=C_LABEL)))

# axis titles
title_font = dict(family=JP, size=18.5, color="black")
annotations.append(dict(text="非排水せん断強度 c<sub>u</sub> (kN /m<sup>2</sup>)", xref="paper",
                        yref="paper", x=328 / 1336, y=1 - 19 / 869, xanchor="center",
                        yanchor="middle", showarrow=False, font=title_font))
annotations.append(dict(text="湿潤単位体積重量 　　<sub>t</sub>(kN /m<sup>3</sup>)", xref="paper",
                        yref="paper", x=1017 / 1336, y=1 - 19 / 869, xanchor="center",
                        yanchor="middle", showarrow=False, font=title_font))
annotations.append(dict(text="標高(A..P. m)", xref="paper", yref="paper", x=21 / 1336,
                        y=1 - 500 / 869, textangle=-90, xanchor="center", yanchor="middle",
                        showarrow=False, font=title_font))
annotations.append(dict(text="標高(A..P.m)", xref="paper", yref="paper", x=694 / 1336,
                        y=1 - 500 / 869, textangle=-90, xanchor="center", yanchor="middle",
                        showarrow=False, font=title_font))

axis_common = dict(showgrid=True, gridcolor="#A8A8A8", gridwidth=1, zeroline=False,
                   showline=True, linecolor="black", linewidth=2.5, mirror=True,
                   ticks="inside", ticklen=5, tickcolor="black", automargin=False,
                   tickfont=dict(family=NUM, size=20, color="black"))

ytickvals = [-10, -20, -30, -40, -50, -60]
yticktext = ["-1 0", "- 20", "- 30", "-4 0", "- 50", "-6 0"]

legend_common = dict(xanchor="left", yanchor="top", bgcolor="white", bordercolor="#444444",
                     borderwidth=1.5, itemwidth=60, traceorder="normal")

fig.update_layout(
    width=1336, height=869, autosize=False,
    margin=dict(l=0, r=0, t=0, b=0, autoexpand=False),
    paper_bgcolor="white", plot_bgcolor="white",
    xaxis=dict(domain=[52 / 1336, 640 / 1336], range=[0, 100], side="top", anchor="y",
               tickvals=[0, 20, 40, 60, 80, 100],
               ticktext=["0", "20", "4 0", "6 0", "8 0", "1 00"],
               ticklabelstandoff=12, **axis_common),
    yaxis=dict(domain=[0, 1 - 79 / 869], range=[-60.78, -5], anchor="x",
               tickvals=ytickvals, ticktext=yticktext, ticklabelstandoff=8, **axis_common),
    xaxis2=dict(domain=[722 / 1336, 1306 / 1336], range=[12, 20], side="top", anchor="y2",
                tickvals=[12, 14, 16, 18, 20], ticktext=["1 2", "14", "16", "18", "20"],
                ticklabelstandoff=12, **axis_common),
    yaxis2=dict(domain=[1 - 858 / 869, 1 - 79 / 869], range=[-60, -5], anchor="x2",
                tickvals=ytickvals, ticktext=yticktext, ticklabelstandoff=8, **axis_common),
    legend=dict(x=283 / 1336, y=1 - 89 / 869, font=dict(family=JP, size=17.5, color="black"),
                **legend_common),
    legend2=dict(x=945 / 1336, y=1 - 88 / 869, font=dict(family=JP, size=19, color="black"),
                 **legend_common),
    annotations=annotations,
    showlegend=True,
)

fig.write_html("out.html")
